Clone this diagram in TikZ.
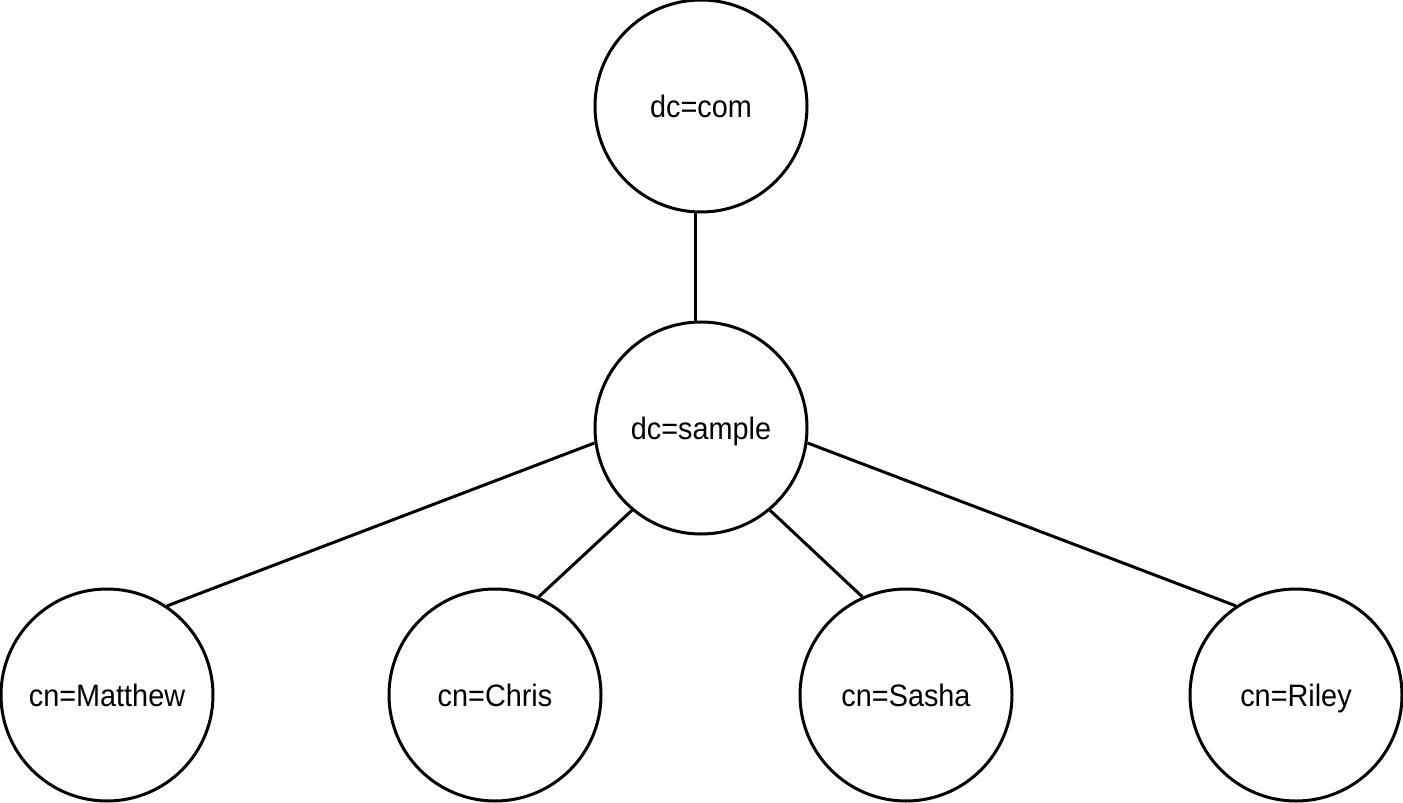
\documentclass[tikz,border=0pt]{standalone}
\usepackage{fontspec}
\setmainfont[FakeStretch=0.93]{Liberation Sans}
\begin{document}
\begin{tikzpicture}[x=1pt,y=-1pt,
  entry/.style={circle,draw=black,line width=3pt,minimum size=212pt,inner sep=0pt,
    text height=22pt,text depth=0pt,
    font=\fontsize{31}{36}\selectfont},
  link/.style={draw=black,line width=3pt}]
\useasboundingbox (0,0) rectangle (1403,803);
\node[entry] (com) at (701,106) {dc=com};
\node[entry] (sample) at (701,428) {dc=sample};
\node[entry] (matthew) at (107,695) {cn=Matthew};
\node[entry] (chris) at (495,695) {cn=Chris};
\node[entry] (sasha) at (906,695) {cn=Sasha};
\node[entry] (riley) at (1296,695) {cn=Riley};
\draw[link] (com.-93) -- (sample.93);
\draw[link] (sample.188) -- (matthew.56);
\draw[link] (sample.230) -- (chris.66);
\draw[link] (sample.310) -- (sasha.114);
\draw[link] (sample.352) -- (riley.124);
\end{tikzpicture}
\end{document}
